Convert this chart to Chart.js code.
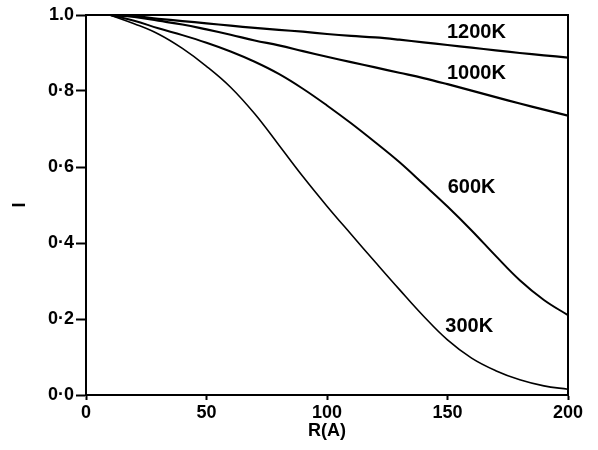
<!DOCTYPE html>
<html>
<head>
<meta charset="utf-8">
<script src="https://cdn.jsdelivr.net/npm/chart.js@4.4.1/dist/chart.umd.min.js"></script>
<style>
  html, body { margin: 0; padding: 0; background: #fff; }
  #wrap { width: 598px; height: 450px; }
</style>
</head>
<body>
<div id="wrap"><canvas id="chart"></canvas></div>
<script>
// data
let radius = [10, 20, 30, 40, 50, 60, 70, 80, 90, 100, 110, 120, 130, 140, 150, 160, 170, 180, 190, 200]
let i300 = [1.0, 0.977, 0.95, 0.912, 0.865, 0.81, 0.74, 0.658, 0.575, 0.497, 0.423, 0.35, 0.278, 0.208, 0.145, 0.097, 0.064, 0.04, 0.024, 0.015]
let i600 = [1.0, 0.985, 0.965, 0.947, 0.927, 0.904, 0.877, 0.845, 0.806, 0.762, 0.715, 0.665, 0.613, 0.555, 0.496, 0.433, 0.366, 0.302, 0.25, 0.21]
let i1000 = [1.0, 0.995, 0.985, 0.975, 0.962, 0.948, 0.933, 0.92, 0.905, 0.89, 0.876, 0.862, 0.848, 0.834, 0.818, 0.801, 0.784, 0.767, 0.751, 0.735]
let i1200 = [1.0, 0.997, 0.99, 0.984, 0.978, 0.972, 0.966, 0.961, 0.956, 0.95, 0.945, 0.941, 0.935, 0.928, 0.921, 0.914, 0.907, 0.9, 0.894, 0.888]

let curveLabels = ['300K', '600K', '1000K', '1200K']
// where each curve label sits, in data units
let labelR = [159, 160, 162, 162]
let labelI = [0.18, 0.545, 0.847, 0.955]

let yTickLabels = ['0·0', '0·2', '0·4', '0·6', '0·8', '1.0']

let toPoints = (ys) => radius.map((r, i) => ({ x: r, y: ys[i] }))

let lineSet = (label, ys, width) => ({
	label,
	data: toPoints(ys),
	borderColor: '#000',
	borderWidth: width,
	pointRadius: 0,
	fill: false,
	tension: 0.4,
})

let font = { family: '"Liberation Sans", Arial, sans-serif', size: 18, weight: 'bold' }

// frame on top and right, plus the curve labels
let extras = {
	id: 'extras',
	afterDraw(chart) {
		let ctx = chart.ctx
		let a = chart.chartArea
		ctx.save()
		ctx.strokeStyle = '#000'
		ctx.lineWidth = 2
		ctx.beginPath()
		ctx.moveTo(a.left, a.top)
		ctx.lineTo(a.right, a.top)
		ctx.lineTo(a.right, a.bottom)
		ctx.stroke()

		ctx.fillStyle = '#000'
		ctx.font = 'bold 20px "Liberation Sans", Arial, sans-serif'
		ctx.textAlign = 'center'
		ctx.textBaseline = 'middle'
		curveLabels.forEach((t, i) => {
			let x = chart.scales.x.getPixelForValue(labelR[i])
			let y = chart.scales.y.getPixelForValue(labelI[i])
			ctx.fillText(t, x, y)
		})
		ctx.restore()
	}
}

new Chart(document.getElementById('chart'), {
	type: 'line',
	data: {
		datasets: [
			lineSet('300K', i300, 1.6),
			lineSet('600K', i600, 2),
			lineSet('1000K', i1000, 2.2),
			lineSet('1200K', i1200, 2.2),
		]
	},
	options: {
		responsive: true,
		maintainAspectRatio: false,
		animation: false,
		layout: { padding: { left: 0, right: 30, top: 15, bottom: 0 } },
		plugins: {
			legend: { display: false },
			tooltip: { enabled: false },
		},
		scales: {
			x: {
				type: 'linear',
				min: 0,
				max: 200,
				afterFit: (s) => { s.height = 55 },
				ticks: { stepSize: 50, color: '#000', font, padding: 2 },
				grid: { drawOnChartArea: false, color: '#000', tickLength: 5, tickWidth: 2 },
				border: { color: '#000', width: 2 },
				title: { display: true, text: 'R(A)', color: '#000', font, padding: { top: 0, bottom: 8 } },
			},
			y: {
				min: 0,
				max: 1,
				afterFit: (s) => { s.width = 86 },
				ticks: {
					stepSize: 0.2,
					color: '#000',
					font,
					padding: 2,
					callback: (v) => yTickLabels[Math.round(v * 5)],
				},
				grid: { drawOnChartArea: false, color: '#000', tickLength: 10, tickWidth: 2 },
				border: { color: '#000', width: 2 },
				title: { display: true, text: 'I', color: '#000', font, padding: { top: 9, bottom: 0 } },
			}
		}
	},
	plugins: [extras]
})
</script>
</body>
</html>
